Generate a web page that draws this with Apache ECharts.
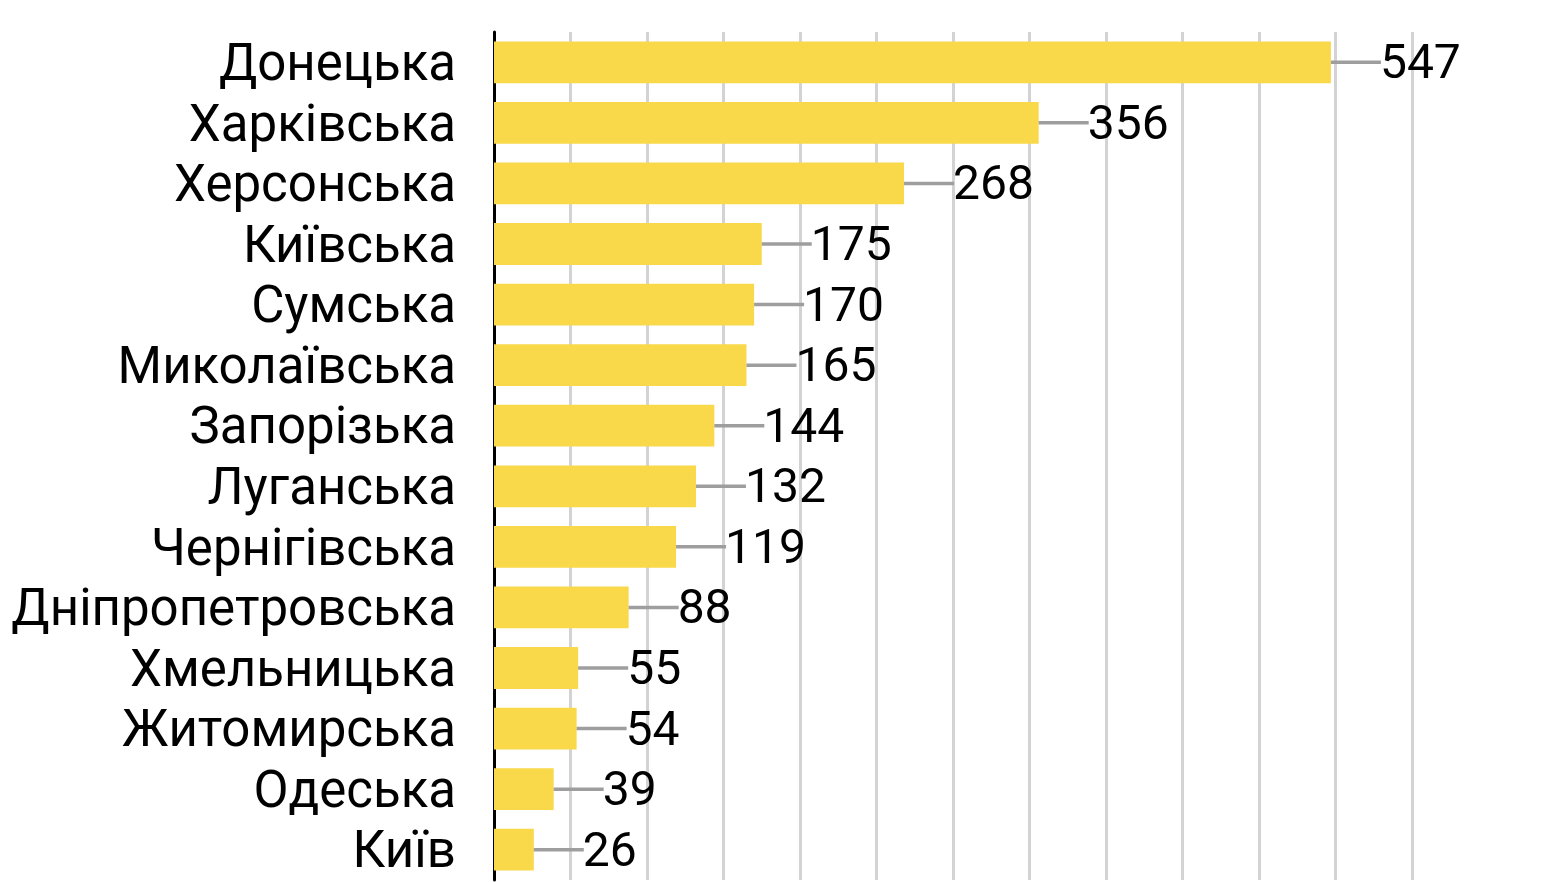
<!DOCTYPE html>
<html>
<head>
<meta charset="utf-8">
<script src="https://cdn.jsdelivr.net/npm/echarts@6/dist/echarts.min.js"></script>
<style>
html,body{margin:0;padding:0;background:#fff;}
#chart{width:1566px;height:882px;}
</style>
</head>
<body>
<div id="chart"></div>
<script>
const categories = ["Донецька","Харківська","Херсонська","Київська","Сумська","Миколаївська","Запорізька","Луганська","Чернігівська","Дніпропетровська","Хмельницька","Житомирська","Одеська","Київ"];
const values = [547,356,268,175,170,165,144,132,119,88,55,54,39,26];

const chart = echarts.init(document.getElementById('chart'));
const FONT = 'Roboto';
chart.setOption({
  animation: false,
  backgroundColor: '#ffffff',
  grid: { left: 494, right: 154, top: 32, bottom: 2, containLabel: false },
  xAxis: {
    type: 'value', min: 0, max: 600, interval: 50,
    axisLabel: { show: false }, axisTick: { show: false }, axisLine: { show: false },
    splitLine: { show: true, lineStyle: { color: '#d3d3d3', width: 3 } }
  },
  yAxis: {
    type: 'category', inverse: true, data: categories,
    axisTick: { show: false },
    axisLine: { show: true, lineStyle: { color: '#000', width: 3 } },
    axisLabel: { interval: 0, color: '#000', fontFamily: FONT, fontSize: 51, margin: 38,
                 verticalAlign: 'top', lineHeight: 10 }
  },
  series: [
    {
      type: 'bar', data: values, barCategoryGap: '31%',
      itemStyle: { color: '#F9D84A' }, z: 2
    },
    {
      type: 'custom', z: 3,
      data: values.map((v, i) => [v, i]),
      renderItem: function (params, api) {
        const p = api.coord([api.value(0), api.value(1)]);
        return {
          type: 'group',
          children: [
            { type: 'line', shape: { x1: p[0], y1: p[1], x2: p[0] + 50, y2: p[1] },
              style: { stroke: '#9e9e9e', lineWidth: 3.5 } },
            { type: 'text', x: p[0] + 49, y: p[1] + 4,
              style: { text: String(api.value(0)), fill: '#000', font: '48px ' + FONT,
                       verticalAlign: 'middle', align: 'left' } }
          ]
        };
      }
    }
  ]
});
</script>
</body>
</html>
